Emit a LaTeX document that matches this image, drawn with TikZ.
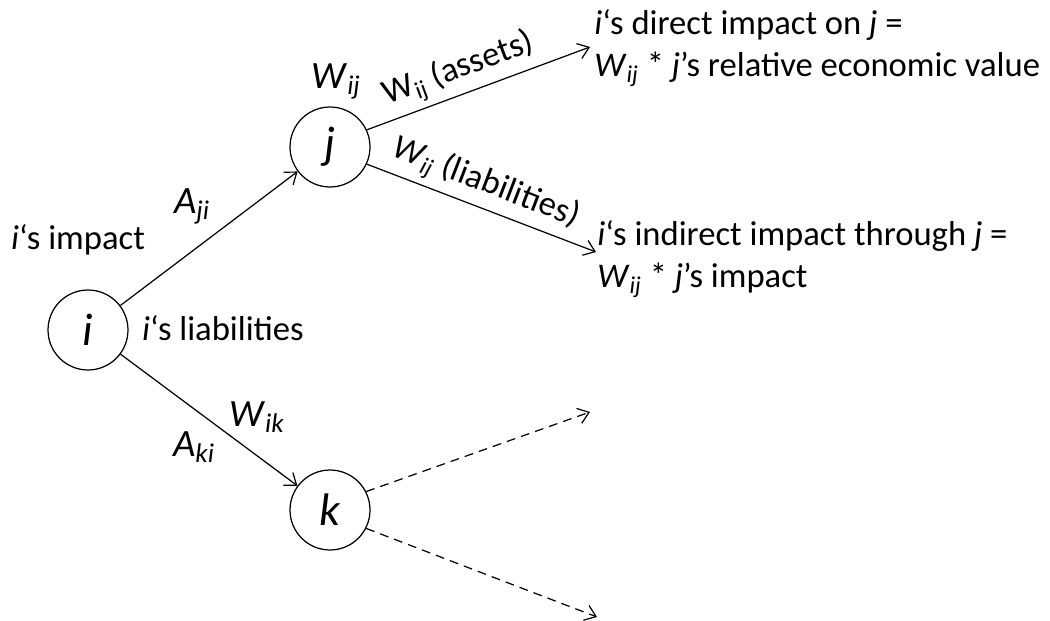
\documentclass[tikz,border=0pt]{standalone}
\usepackage{fontspec}
\setmainfont{Carlito}
\usetikzlibrary{arrows.meta, positioning}
\newcommand{\iv}[1]{\textit{#1}}
\newcommand{\wsub}[2]{\textit{#1}\textsubscript{\textit{#2}}}

\begin{document}
\begin{tikzpicture}[x=0.02cm, y=-0.02cm,
    every node/.style={font=\fontsize{19.7}{24}\selectfont},
    bank/.style={draw, circle, minimum size=1.6cm, inner sep=0pt, line width=0.7pt,
        font=\fontsize{26}{30}\selectfont},
    weight/.style={font=\fontsize{22}{26}\selectfont},
    link/.style={-{Straight Barb[length=6pt, width=9pt]}, line width=0.7pt},
    spill/.style={link, dash pattern=on 5pt off 3.5pt}]
    \useasboundingbox (0,0) rectangle (1050,621);

    % banks
    \node[bank] (i) at (88,330) {\iv{i}};
    \node[bank] (j) at (330,147) {\iv{j}};
    \node[bank] (k) at (330,510) {\iv{k}};

    % free arrow ends
    \coordinate (direct) at (590,47);
    \coordinate (indirect) at (596,252);
    \coordinate (kup) at (590,412);
    \coordinate (kdown) at (597,617);

    % exposures
    \draw[link] (i) -- (j);
    \draw[link] (i) -- (k);
    \draw[link] (j.25) -- node[sloped, above, pos=0.45] {W\textsubscript{ij} (assets)} (direct);
    \draw[link] (j.-25) -- node[sloped, above, pos=0.48] {\wsub{W}{ij} (liabilities)} (indirect);
    \draw[spill] (k.27) -- (kup);
    \draw[spill] (k.-27) -- (kdown);

    % labels
    \node (impact) at (78,240) {\iv{i}`s impact};
    \node[weight] (aji) at (192,206) {\wsub{A}{ji}};
    \node (liab) at (223,328) {\iv{i}`s liabilities};
    \node[weight] (wij) at (336,81) {\wsub{W}{ij}};
    \node[weight] (wik) at (257,417) {\wsub{W}{ik}};
    \node[weight] (aki) at (194,447) {\wsub{A}{ki}};
    \node[anchor=west, align=left, inner sep=0pt] (directtxt) at (594,48)
        {\iv{i}`s direct impact on \iv{j} =\\ \wsub{W}{ij} * \iv{j}'s relative economic value};
    \node[anchor=west, align=left, inner sep=0pt] (indirecttxt) at (597,259)
        {\iv{i}`s indirect impact through \iv{j} =\\ \wsub{W}{ij} * \iv{j}'s impact};
\end{tikzpicture}
\end{document}
